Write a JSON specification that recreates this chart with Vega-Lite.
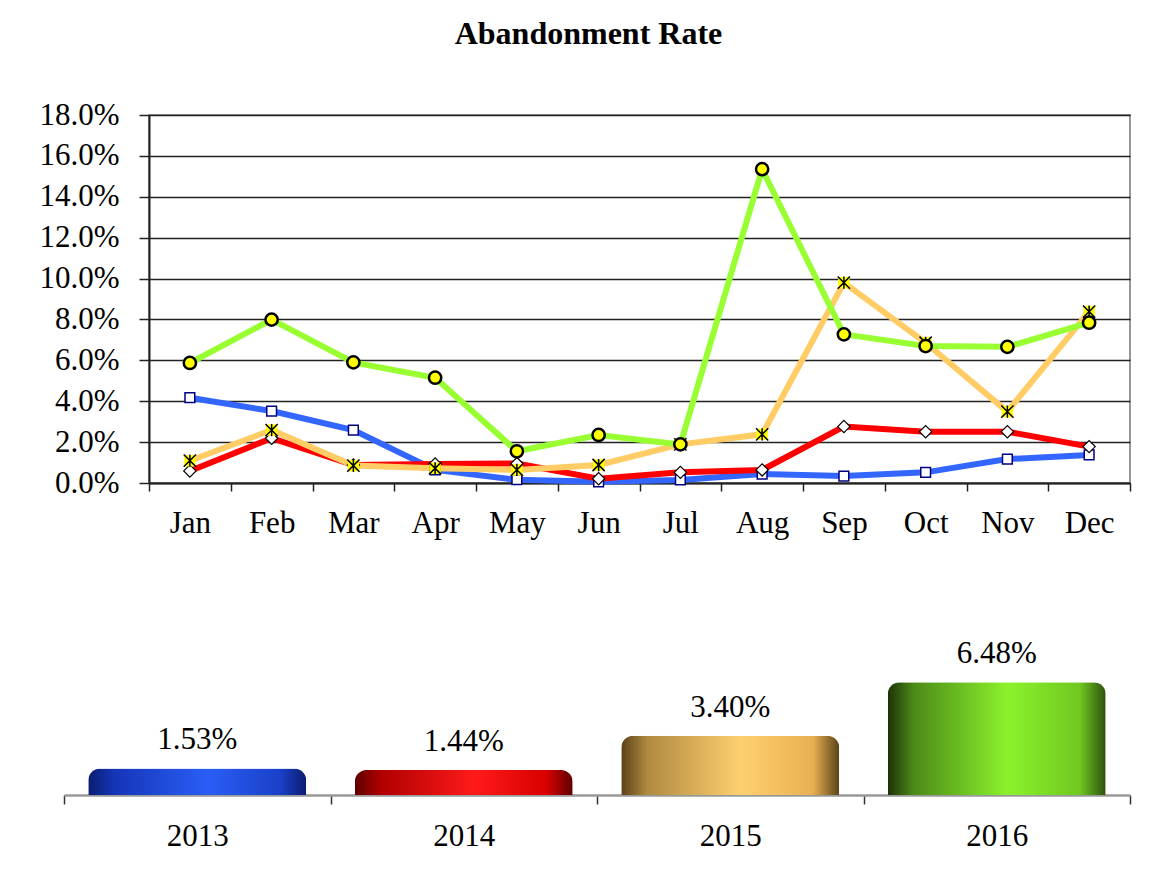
{
  "$schema": "https://vega.github.io/schema/vega-lite/v6.json",
  "background": "white",
  "padding": {"left": 37, "top": 18, "right": 33, "bottom": 10},
  "title": {"text": "Abandonment Rate", "font": "Liberation Serif", "fontSize": 32, "fontWeight": "bold", "color": "black", "offset": 47, "dx": -38, "anchor": "middle"},
  "config": {"font": "Liberation Serif", "view": {"stroke": null}},
  "spacing": 82,
  "datasets": {
    "monthly": [
      {"month": "Jan", "year": "2013", "rate": 0.0417}, {"month": "Feb", "year": "2013", "rate": 0.0352}, {"month": "Mar", "year": "2013", "rate": 0.0259}, {"month": "Apr", "year": "2013", "rate": 0.0064}, {"month": "May", "year": "2013", "rate": 0.0016}, {"month": "Jun", "year": "2013", "rate": 0.0006}, {"month": "Jul", "year": "2013", "rate": 0.0015}, {"month": "Aug", "year": "2013", "rate": 0.0044}, {"month": "Sep", "year": "2013", "rate": 0.0034}, {"month": "Oct", "year": "2013", "rate": 0.0052}, {"month": "Nov", "year": "2013", "rate": 0.0117}, {"month": "Dec", "year": "2013", "rate": 0.0137},
      {"month": "Jan", "year": "2014", "rate": 0.0059}, {"month": "Feb", "year": "2014", "rate": 0.0219}, {"month": "Mar", "year": "2014", "rate": 0.0088}, {"month": "Apr", "year": "2014", "rate": 0.0093}, {"month": "May", "year": "2014", "rate": 0.0095}, {"month": "Jun", "year": "2014", "rate": 0.0021}, {"month": "Jul", "year": "2014", "rate": 0.0052}, {"month": "Aug", "year": "2014", "rate": 0.0064}, {"month": "Sep", "year": "2014", "rate": 0.0276}, {"month": "Oct", "year": "2014", "rate": 0.0251}, {"month": "Nov", "year": "2014", "rate": 0.0251}, {"month": "Dec", "year": "2014", "rate": 0.0178},
      {"month": "Jan", "year": "2015", "rate": 0.0109}, {"month": "Feb", "year": "2015", "rate": 0.0259}, {"month": "Mar", "year": "2015", "rate": 0.0085}, {"month": "Apr", "year": "2015", "rate": 0.0072}, {"month": "May", "year": "2015", "rate": 0.0064}, {"month": "Jun", "year": "2015", "rate": 0.0088}, {"month": "Jul", "year": "2015", "rate": 0.0189}, {"month": "Aug", "year": "2015", "rate": 0.0238}, {"month": "Sep", "year": "2015", "rate": 0.098}, {"month": "Oct", "year": "2015", "rate": 0.0686}, {"month": "Nov", "year": "2015", "rate": 0.0349}, {"month": "Dec", "year": "2015", "rate": 0.0838},
      {"month": "Jan", "year": "2016", "rate": 0.0587}, {"month": "Feb", "year": "2016", "rate": 0.0799}, {"month": "Mar", "year": "2016", "rate": 0.059}, {"month": "Apr", "year": "2016", "rate": 0.0515}, {"month": "May", "year": "2016", "rate": 0.0155}, {"month": "Jun", "year": "2016", "rate": 0.0235}, {"month": "Jul", "year": "2016", "rate": 0.0189}, {"month": "Aug", "year": "2016", "rate": 0.1535}, {"month": "Sep", "year": "2016", "rate": 0.0727}, {"month": "Oct", "year": "2016", "rate": 0.067}, {"month": "Nov", "year": "2016", "rate": 0.0666}, {"month": "Dec", "year": "2016", "rate": 0.0784}
    ],
    "annual": [
      {"year": "2013", "rate": 0.0153},
      {"year": "2014", "rate": 0.0144},
      {"year": "2015", "rate": 0.034},
      {"year": "2016", "rate": 0.0648}
    ]
  },
  "vconcat": [
    {
      "width": 981,
      "height": 368,
      "data": {"name": "monthly"},
      "view": {"stroke": "#999999", "strokeWidth": 2},
      "encoding": {
        "x": {
          "field": "month", "type": "ordinal",
          "sort": ["Jan", "Feb", "Mar", "Apr", "May", "Jun", "Jul", "Aug", "Sep", "Oct", "Nov", "Dec"],
          "bandPosition": 0.5,
          "scale": {"type": "band", "paddingInner": 0, "paddingOuter": 0},
          "axis": {"title": null, "labelAngle": 0, "labelFont": "Liberation Serif", "labelFontSize": 31, "labelColor": "black", "tickSize": 8, "tickColor": "#222222", "tickWidth": 1.5, "tickBand": "extent", "domainColor": "#222222", "domainWidth": 2, "labelPadding": 17, "grid": false}
        },
        "y": {
          "field": "rate", "type": "quantitative",
          "scale": {"domain": [0, 0.18]},
          "axis": {"title": null, "format": ".1%", "values": [0, 0.02, 0.04, 0.06, 0.08, 0.1, 0.12, 0.14, 0.16, 0.18], "labelFont": "Liberation Serif", "labelFontSize": 31, "labelColor": "black", "tickSize": 10, "tickColor": "#222222", "tickWidth": 1.5, "labelPadding": 20, "grid": true, "gridColor": "#222222", "gridWidth": 1.5, "domainColor": "#222222", "domainWidth": 2}
        }
      },
      "layer": [
        {
          "mark": {"type": "line", "strokeWidth": 6},
          "encoding": {
            "color": {"field": "year", "type": "nominal", "scale": {"domain": ["2013", "2014", "2015", "2016"], "range": ["#3366FF", "#FF0000", "#FFCC66", "#99FF33"]}, "legend": null}
          }
        },
        {
          "transform": [{"filter": "datum.year === '2013'"}],
          "mark": {"type": "point", "shape": "square", "filled": true, "fill": "white", "stroke": "#000080", "strokeWidth": 1.5, "size": 95, "opacity": 1}
        },
        {
          "transform": [{"filter": "datum.year === '2014'"}],
          "mark": {"type": "point", "shape": "diamond", "filled": true, "fill": "white", "stroke": "black", "strokeWidth": 1.2, "size": 150, "opacity": 1}
        },
        {
          "transform": [{"filter": "datum.year === '2015'"}],
          "mark": {"type": "point", "shape": "square", "filled": true, "fill": "#FFFF00", "strokeWidth": 0, "size": 130, "opacity": 1}
        },
        {
          "transform": [{"filter": "datum.year === '2015'"}],
          "mark": {"type": "point", "shape": "M -1 -1 L 1 1 M 1 -1 L -1 1 M 0 -1 L 0 1", "filled": false, "stroke": "black", "strokeWidth": 1.5, "size": 150, "opacity": 1}
        },
        {
          "transform": [{"filter": "datum.year === '2016'"}],
          "mark": {"type": "point", "shape": "circle", "filled": true, "fill": "#FFFF00", "stroke": "black", "strokeWidth": 2.5, "size": 150, "opacity": 1}
        }
      ]
    },
    {
      "width": 981,
      "height": 174,
      "data": {"name": "annual"},
      "encoding": {
        "x": {
          "field": "year", "type": "nominal",
          "scale": {"type": "band", "range": [-85, 981], "paddingInner": 0, "paddingOuter": 0},
          "axis": {"title": null, "labelAngle": 0, "labelFont": "Liberation Serif", "labelFontSize": 31, "labelColor": "black", "tickSize": 9, "tickBand": "extent", "tickColor": "#333333", "tickWidth": 1.5, "domainColor": "#999999", "domainWidth": 2.5, "labelPadding": 17, "grid": false}
        },
        "y": {
          "field": "rate", "type": "quantitative",
          "scale": {"domain": [0, 0.1]},
          "axis": null
        }
      },
      "layer": [
        {
          "transform": [{"filter": "datum.year === '2013'"}],
          "mark": {"type": "bar", "width": {"band": 0.818}, "cornerRadiusTopLeft": 12, "cornerRadiusTopRight": 12, "color": {"gradient": "linear", "x1": 0, "x2": 1, "y1": 0, "y2": 0, "stops": [{"offset": 0, "color": "#0b1d6e"}, {"offset": 0.12, "color": "#1535b8"}, {"offset": 0.55, "color": "#2a5ef5"}, {"offset": 0.88, "color": "#1a40c8"}, {"offset": 1, "color": "#0b1d6e"}]}}
        },
        {
          "transform": [{"filter": "datum.year === '2014'"}],
          "mark": {"type": "bar", "width": {"band": 0.818}, "cornerRadiusTopLeft": 12, "cornerRadiusTopRight": 12, "color": {"gradient": "linear", "x1": 0, "x2": 1, "y1": 0, "y2": 0, "stops": [{"offset": 0, "color": "#5e0000"}, {"offset": 0.12, "color": "#b00000"}, {"offset": 0.55, "color": "#ff1a1a"}, {"offset": 0.88, "color": "#d80000"}, {"offset": 1, "color": "#5e0000"}]}}
        },
        {
          "transform": [{"filter": "datum.year === '2015'"}],
          "mark": {"type": "bar", "width": {"band": 0.818}, "cornerRadiusTopLeft": 12, "cornerRadiusTopRight": 12, "color": {"gradient": "linear", "x1": 0, "x2": 1, "y1": 0, "y2": 0, "stops": [{"offset": 0, "color": "#5a4218"}, {"offset": 0.12, "color": "#b08a40"}, {"offset": 0.55, "color": "#ffd070"}, {"offset": 0.88, "color": "#e8b050"}, {"offset": 1, "color": "#5a4218"}]}}
        },
        {
          "transform": [{"filter": "datum.year === '2016'"}],
          "mark": {"type": "bar", "width": {"band": 0.818}, "cornerRadiusTopLeft": 12, "cornerRadiusTopRight": 12, "color": {"gradient": "linear", "x1": 0, "x2": 1, "y1": 0, "y2": 0, "stops": [{"offset": 0, "color": "#1c3208"}, {"offset": 0.12, "color": "#4c8a18"}, {"offset": 0.55, "color": "#8cf22c"}, {"offset": 0.88, "color": "#70c820"}, {"offset": 1, "color": "#2e5010"}]}}
        },
        {
          "mark": {"type": "text", "baseline": "alphabetic", "dy": -19, "font": "Liberation Serif", "fontSize": 31, "color": "black"},
          "encoding": {"text": {"field": "rate", "type": "quantitative", "format": ".2%"}}
        }
      ]
    }
  ]
}
